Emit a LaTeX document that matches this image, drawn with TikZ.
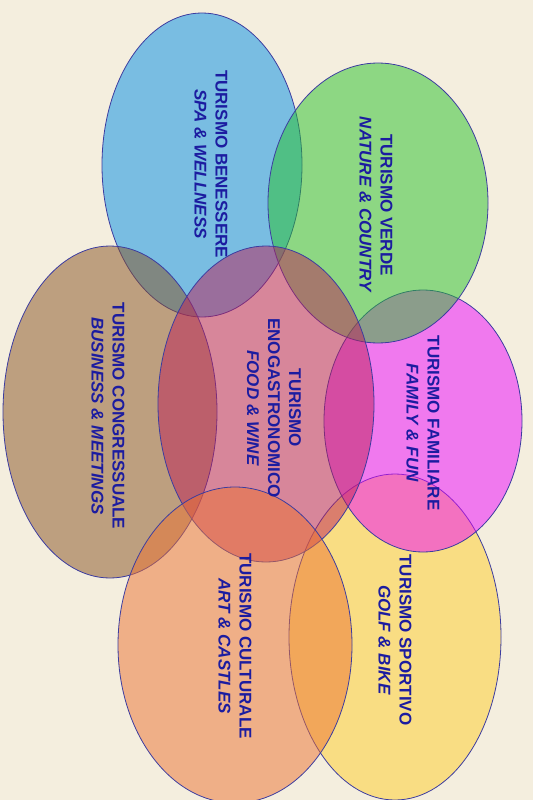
\documentclass[tikz,border=0pt]{standalone}
\usepackage{fontspec}
\setmainfont{Liberation Sans}
\usetikzlibrary{shapes.geometric}
\definecolor{paper}{RGB}{244,238,222}
\definecolor{ink}{RGB}{28,28,160}
\definecolor{edge}{RGB}{60,60,160}
\definecolor{spablue}{RGB}{0,142,230}
\definecolor{naturegreen}{RGB}{40,194,42}
\definecolor{businessbrown}{RGB}{136,82,34}
\definecolor{winepink}{RGB}{188,32,88}
\definecolor{funmagenta}{RGB}{238,6,254}
\definecolor{artorange}{RGB}{236,114,50}
\definecolor{golfyellow}{RGB}{254,206,42}
\tikzstyle{every node}=[font=\fontsize{17}{21}\selectfont\bfseries]
\tikzstyle{zone} = [ellipse, draw=edge, line width=0.8pt, inner sep=0pt, fill opacity=0.5, rotate=-90]
\tikzstyle{caption} = [text=ink, align=center, rotate=-90]

\begin{document}
\begin{tikzpicture}[x=1pt, y=-1pt]
    % Paper
    \fill [paper] (0,0) rectangle (533,800);
    \useasboundingbox (0,0) rectangle (533,800);
    % Place zones
    \node [zone, fill=golfyellow, minimum width=326pt, minimum height=212pt] (sportivo) at (395,637) {};
    \node [zone, fill=funmagenta, minimum width=262pt, minimum height=198pt] (familiare) at (423,421) {};
    \node [zone, fill=spablue, minimum width=304pt, minimum height=200pt] (benessere) at (202,165) {};
    \node [zone, fill=naturegreen, minimum width=280pt, minimum height=220pt] (verde) at (378,203) {};
    \node [zone, fill=businessbrown, minimum width=332pt, minimum height=214pt] (congressuale) at (110,412) {};
    \node [zone, fill=winepink, minimum width=316pt, minimum height=216pt] (enogastronomico) at (266,404) {};
    \node [zone, fill=artorange, minimum width=316pt, minimum height=234pt] (culturale) at (235,645) {};
    % Captions
    \node [caption] (benessere-text) at (211,164) {TURISMO BENESSERE\\ \textit{SPA \& WELLNESS}};
    \node [caption] (verde-text) at (376,205) {TURISMO VERDE\\ \textit{NATURE \& COUNTRY}};
    \node [caption] (congressuale-text) at (108,416) {TURISMO CONGRESSUALE\\ \textit{BUSINESS \& MEETINGS}};
    \node [caption] (enogastronomico-text) at (274,408) {TURISMO\\ ENOGASTRONOMICO\\ \textit{FOOD \& WINE}};
    \node [caption] (familiare-text) at (423,423) {TURISMO FAMILIARE\\ \textit{FAMILY \& FUN}};
    \node [caption] (culturale-text) at (235,646) {TURISMO CULTURALE\\ \textit{ART \& CASTLES}};
    \node [caption] (sportivo-text) at (395,640) {TURISMO SPORTIVO\\ \textit{GOLF \& BIKE}};
\end{tikzpicture}
\end{document}
